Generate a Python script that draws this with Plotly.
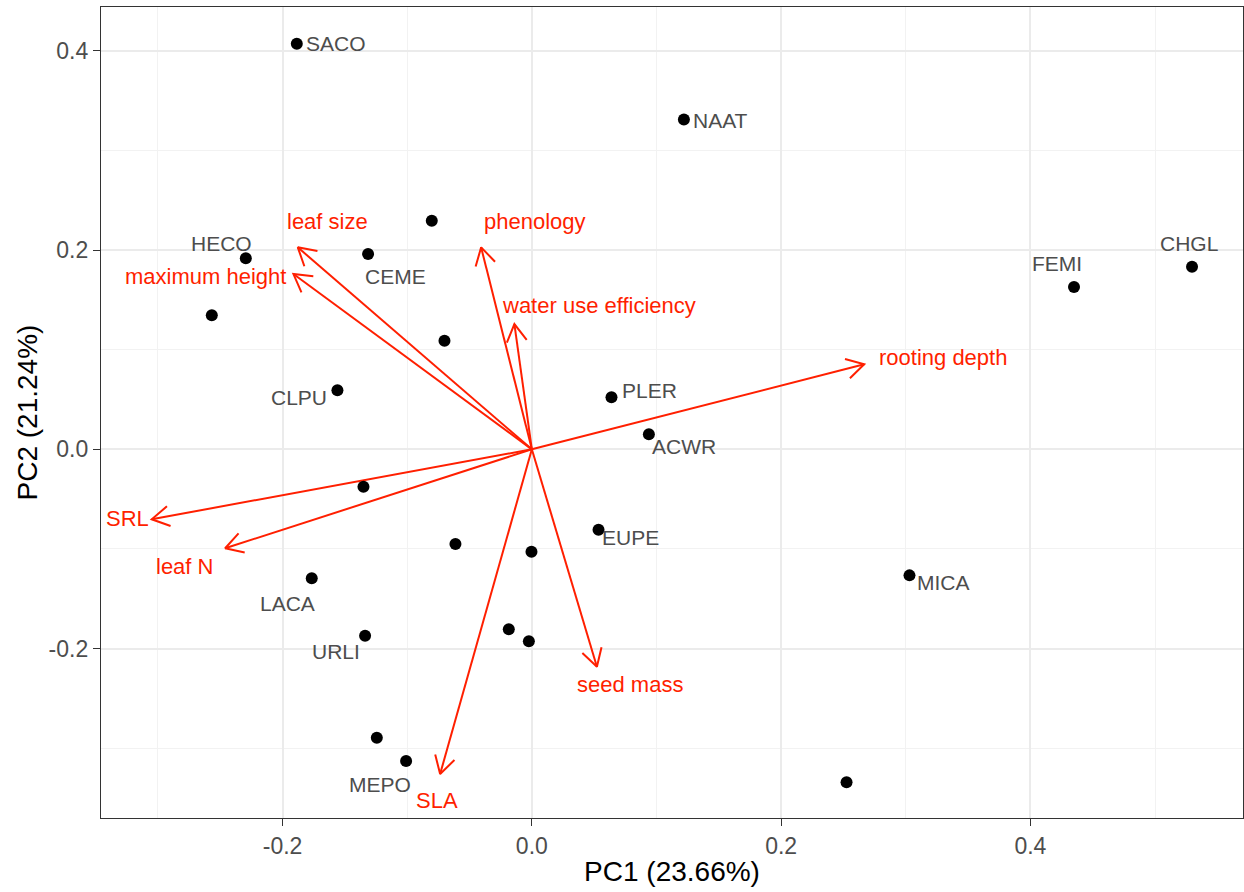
import numpy as np
import plotly.graph_objects as go

# ---- data: species scores ----
species = ["SACO", "NAAT", "", "HECO", "CEME", "FEMI", "CHGL", "", "", "CLPU", "PLER", "ACWR",
           "", "EUPE", "", "", "LACA", "MICA", "URLI", "", "", "", "MEPO", ""]
pc1 = [-0.1886, 0.122, -0.0803, -0.2295, -0.1314, 0.435, 0.5297, -0.2568, -0.0701, -0.156, 0.0639, 0.0939,
       -0.1351, 0.0535, -0.0613, -0.0003, -0.1766, 0.303, -0.1338, -0.0185, -0.0024, -0.1244, -0.1009, 0.2525]
pc2 = [0.407, 0.331, 0.2294, 0.1917, 0.196, 0.163, 0.1833, 0.1345, 0.109, 0.0592, 0.0522, 0.0151,
       -0.0375, -0.0807, -0.095, -0.1028, -0.1295, -0.1265, -0.187, -0.1806, -0.1927, -0.2894, -0.3128, -0.3342]

# ---- data: trait loadings ----
traits = ["leaf size", "maximum height", "phenology", "water use efficiency", "rooting depth",
          "SRL", "leaf N", "seed mass", "SLA"]
load1 = [-0.1878, -0.1913, -0.0407, -0.014, 0.2667, -0.305, -0.2461, 0.0522, -0.0736]
load2 = [0.2027, 0.1759, 0.2027, 0.1257, 0.0853, -0.0702, -0.0993, -0.2182, -0.3258]

# ---- tick labels ----
x_ticks = [-0.2, 0.0, 0.2, 0.4]
x_ticklabels = ["-0.2", "0.0", "0.2", "0.4"]
y_ticks = [-0.2, 0.0, 0.2, 0.4]
y_ticklabels = ["-0.2", "0.0", "0.2", "0.4"]

x_title = "PC1 (23.66%)"
y_title = "PC2 (21.24%)"

# ---- layout / label placement (styling) ----
W, H = 1244, 892
M = dict(l=101, r=1, t=7, b=74)
XR = [-0.3457, 0.5706]
YR = [-0.370, 0.4439]
PW = W - M["l"] - M["r"]
px_x = PW / (XR[1] - XR[0])
px_y = (H - M["t"] - M["b"]) / (YR[1] - YR[0])

species_offsets = {  # pixel offsets (dx right, dy down)
    "SACO": (39.6, 0), "NAAT": (36.8, 1.4), "HECO": (-24, -15), "CEME": (27, 22),
    "FEMI": (-17.4, -23.4), "CHGL": (-2.7, -23.4), "CLPU": (-38.3, 7.4), "PLER": (38, -6.7),
    "ACWR": (35.5, 12.3), "EUPE": (32.3, 8), "LACA": (-24.7, 24.7), "MICA": (34, 7.3),
    "URLI": (-29, 16), "MEPO": (-25.7, 23),
}
trait_label_pos = {
    "leaf size": (-0.1636, 0.2284), "maximum height": (-0.2616, 0.1732),
    "phenology": (0.0024, 0.2284), "water use efficiency": (0.054, 0.1448),
    "rooting depth": (0.3295, 0.0917), "SRL": (-0.3248, -0.0699),
    "leaf N": (-0.279, -0.1178), "seed mass": (0.0791, -0.2365), "SLA": (-0.076, -0.3526),
}

FONT = "Liberation Sans, Arial, Helvetica, sans-serif"
RED = "#FF1F00"

fig = go.Figure()

# arrows (shafts + open heads)
head_len = 20
head_ang = np.deg2rad(30)
for t, a, b in zip(traits, load1, load2):
    fig.add_trace(go.Scatter(x=[0, a], y=[0, b], mode="lines",
                             line=dict(color=RED, width=2), hoverinfo="skip", showlegend=False))
    vx, vy = -a * px_x, -b * px_y
    n = np.hypot(vx, vy)
    vx, vy = vx / n, vy / n
    pts = []
    for s in (1, -1):
        c, sn = np.cos(s * head_ang), np.sin(s * head_ang)
        rx, ry = vx * c - vy * sn, vx * sn + vy * c
        pts.append((a + rx * head_len / px_x, b + ry * head_len / px_y))
    fig.add_trace(go.Scatter(x=[pts[0][0], a, pts[1][0]], y=[pts[0][1], b, pts[1][1]],
                             mode="lines", line=dict(color=RED, width=2),
                             hoverinfo="skip", showlegend=False))

# points
fig.add_trace(go.Scatter(x=pc1, y=pc2, mode="markers",
                         marker=dict(color="black", size=12),
                         text=species, hoverinfo="text", showlegend=False))

annotations = []
for name, x, y in zip(species, pc1, pc2):
    if not name:
        continue
    dx, dy = species_offsets[name]
    annotations.append(dict(x=x, y=y, xref="x", yref="y", text=name, showarrow=False,
                            xshift=dx, yshift=-dy, xanchor="center", yanchor="middle",
                            font=dict(family=FONT, size=21, color="#4D4D4D")))
for t in traits:
    lx, ly = trait_label_pos[t]
    annotations.append(dict(x=lx, y=ly, xref="x", yref="y", text=t, showarrow=False,
                            xanchor="center", yanchor="middle",
                            font=dict(family=FONT, size=22, color=RED)))
# y axis title placed explicitly
annotations.append(dict(x=(27 - M["l"]) / PW, y=0.5, xref="paper", yref="paper",
                        text=y_title, textangle=-90, showarrow=False,
                        xanchor="center", yanchor="middle",
                        font=dict(family=FONT, size=28, color="black")))

axis_common = dict(
    showgrid=True, gridcolor="#EBEBEB", gridwidth=1.6,
    zeroline=False, showline=True, mirror=True, linecolor="#333333", linewidth=1.3,
    ticks="outside", ticklen=7, tickwidth=1.3, tickcolor="#333333",
    tickfont=dict(family=FONT, size=23, color="#4D4D4D"),
    tickmode="array",
)
fig.update_layout(
    width=W, height=H, margin=M,
    paper_bgcolor="white", plot_bgcolor="white",
    annotations=annotations,
    xaxis=dict(range=XR, **axis_common, tickvals=x_ticks, ticktext=x_ticklabels,
               minor=dict(dtick=0.1, tick0=0, showgrid=True, gridcolor="#F2F2F2", gridwidth=1),
               title=dict(text=x_title, font=dict(family=FONT, size=28, color="black"), standoff=3)),
    yaxis=dict(range=YR, **axis_common, tickvals=y_ticks, ticktext=y_ticklabels,
               minor=dict(dtick=0.1, tick0=0, showgrid=True, gridcolor="#F2F2F2", gridwidth=1)),
)

fig.write_html("out.html")
